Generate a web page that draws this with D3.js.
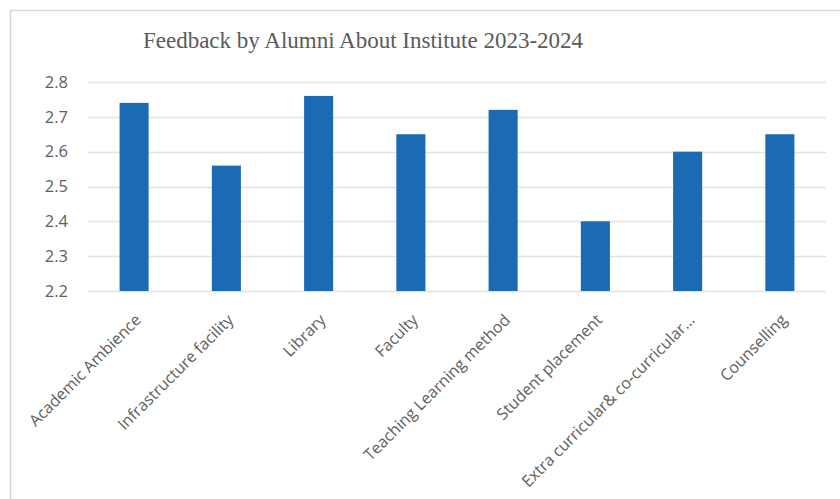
<!DOCTYPE html>
<html>
<head>
<meta charset="utf-8">
<script src="https://cdn.jsdelivr.net/npm/d3@7"></script>
<style>
  html, body { margin: 0; padding: 0; background: #fff; }
  svg { display: block; }
</style>
</head>
<body>
<svg id="chart" width="840" height="499"></svg>
<script>
const title = "Feedback by Alumni About Institute 2023-2024";
const categories = [
  "Academic Ambience",
  "Infrastructure facility",
  "Library",
  "Faculty",
  "Teaching Learning method",
  "Student placement",
  "Extra curricular& co-curricular\u2026",
  "Counselling"
];
const values = [2.74, 2.56, 2.76, 2.65, 2.72, 2.40, 2.60, 2.65];
const yTicks = [2.2, 2.3, 2.4, 2.5, 2.6, 2.7, 2.8];

const svg = d3.select("#chart");
const W = 840, H = 499;
const plot = { left: 88, right: 826, top: 82, bottom: 291 };

// chart border
svg.append("rect")
  .attr("x", 10.5).attr("y", 10.5)
  .attr("width", W + 10).attr("height", H + 10)
  .attr("fill", "#fff").attr("stroke", "#d9d9d9").attr("stroke-width", 1.5);

const x = d3.scaleBand()
  .domain(categories)
  .range([plot.left, plot.right])
  .paddingInner(0.685)
  .paddingOuter(0.3425);

const y = d3.scaleLinear()
  .domain([2.2, 2.8])
  .range([plot.bottom, plot.top]);

// gridlines
svg.append("g")
  .selectAll("line")
  .data(yTicks)
  .join("line")
  .attr("x1", plot.left).attr("x2", plot.right)
  .attr("y1", d => Math.round(y(d)) + 0.5)
  .attr("y2", d => Math.round(y(d)) + 0.5)
  .attr("stroke", "#e3e3e3")
  .attr("stroke-width", 1.3);

// y axis
const yAxis = d3.axisLeft(y)
  .tickValues(yTicks)
  .tickFormat(d3.format(".1f"))
  .tickSize(0)
  .tickPadding(0);
const yg = svg.append("g")
  .attr("transform", `translate(${plot.left - 20},0)`)
  .call(yAxis);
yg.select(".domain").remove();
yg.selectAll("text")
  .attr("fill", "#606060")
  .style("font-family", "'Open Sans', 'Liberation Sans', sans-serif")
  .style("font-size", "16.5px");

// bars
svg.append("g")
  .selectAll("rect")
  .data(values)
  .join("rect")
  .attr("x", (d, i) => x(categories[i]))
  .attr("width", x.bandwidth())
  .attr("y", d => y(d))
  .attr("height", d => y(2.2) - y(d))
  .attr("fill", "#1b6bb4");

// x axis
const xAxis = d3.axisBottom(x).tickSize(0).tickPadding(0);
const xg = svg.append("g")
  .attr("transform", `translate(4,${plot.bottom + 26})`)
  .call(xAxis);
xg.select(".domain").remove();
xg.selectAll("text")
  .attr("fill", "#606060")
  .style("font-family", "'Open Sans', 'Liberation Sans', sans-serif")
  .style("font-size", "16px")
  .attr("text-anchor", "end")
  .attr("dy", "0.35em")
  .attr("transform", "rotate(-45)");

// title
svg.append("text")
  .attr("x", 363)
  .attr("y", 48)
  .attr("text-anchor", "middle")
  .attr("fill", "#5a5a5a")
  .style("font-family", "'Liberation Serif', 'Times New Roman', serif")
  .style("font-size", "23px")
  .text(title);
</script>
</body>
</html>
